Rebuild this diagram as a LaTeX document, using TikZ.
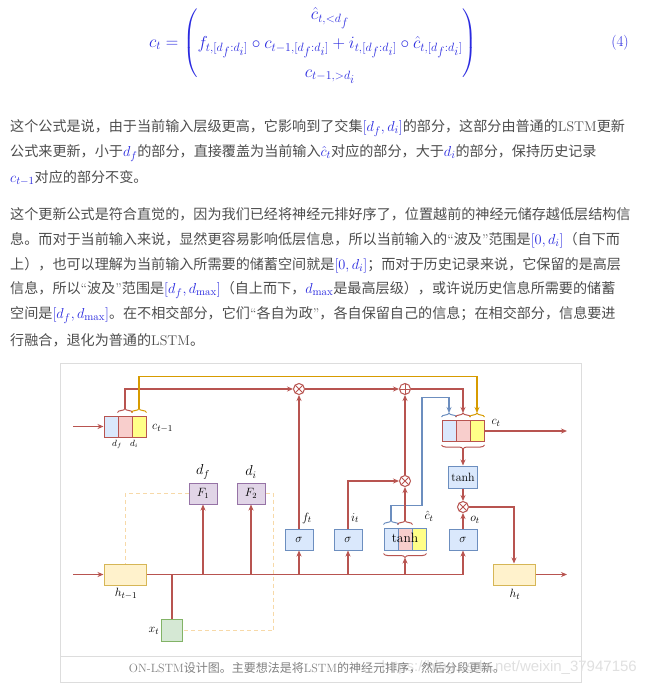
\documentclass[tikz,border=0pt]{standalone}
\usepackage{amsmath, amssymb}
\usepackage{fontspec}
\newfontfamily\cjk{Noto Sans CJK SC}
\newfontfamily\wmfont{Liberation Sans}
\usetikzlibrary{arrows.meta, decorations.pathreplacing}

\definecolor{txtgray}{HTML}{4D4D4D}
\definecolor{mblue}{HTML}{2A2AE0}
\definecolor{lred}{HTML}{B85450}
\definecolor{lredfill}{HTML}{F8CECC}
\definecolor{lblue}{HTML}{6C8EBF}
\definecolor{lbluefill}{HTML}{DAE8FC}
\definecolor{lorange}{HTML}{D79B00}
\definecolor{lyellowfill}{HTML}{FFFF88}
\definecolor{hfill}{HTML}{FFF2CC}
\definecolor{hdraw}{HTML}{D6B656}
\definecolor{gfill}{HTML}{D5E8D4}
\definecolor{gdraw}{HTML}{82B366}
\definecolor{pfill}{HTML}{E1D5E7}
\definecolor{pdraw}{HTML}{9673A6}
\definecolor{dashc}{HTML}{F7D9A8}
\definecolor{framec}{HTML}{DDDDDD}
\definecolor{capgray}{HTML}{808080}

\newcommand{\mth}[1]{{\fontsize{15.5}{15.5}\selectfont\textcolor{mblue}{$#1$}}}
\newcommand{\lstm}{{\rmfamily LSTM}}
\newcommand{\oquote}{{\rmfamily “}}
\newcommand{\cquote}{{\rmfamily ”}}
\newcommand{\ssub}[1]{{\scriptstyle #1}}

\begin{document}
\begin{tikzpicture}[x=1pt, y=-1pt,
    lk/.style={draw=lred, line width=1.1pt},
    ok/.style={draw=lorange, line width=1.1pt},
    bk/.style={draw=lblue, line width=1.1pt},
    dk/.style={draw=dashc, line width=1pt, dash pattern=on 4pt off 3pt},
    ar/.style={-{Stealth[length=6pt, width=5pt]}},
    cellr/.style={draw=lred, line width=1pt, minimum width=14, minimum height=21, inner sep=0},
    cellb/.style={draw=lblue, line width=1pt, minimum width=14, minimum height=22, inner sep=0},
    gate/.style={draw=lblue, fill=lbluefill, line width=1pt, minimum width=28, minimum height=21, inner sep=0, font=\fontsize{12}{12}\selectfont},
    fbox/.style={draw=pdraw, fill=pfill, line width=1pt, minimum width=28, minimum height=21, inner sep=0, font=\fontsize{12}{12}\selectfont},
    hbox/.style={draw=hdraw, fill=hfill, line width=1pt, minimum width=42, minimum height=21, inner sep=0},
    xbox/.style={draw=gdraw, fill=gfill, line width=1pt, minimum width=21, minimum height=22, inner sep=0},
    opnode/.style={circle, draw=lred, fill=white, line width=1pt, minimum size=11, inner sep=0},
    timesop/.style={opnode, path picture={\draw[lred, line width=0.9pt] (path picture bounding box.north west) -- (path picture bounding box.south east) (path picture bounding box.north east) -- (path picture bounding box.south west);}},
    plusop/.style={opnode, path picture={\draw[lred, line width=0.9pt] (path picture bounding box.north) -- (path picture bounding box.south) (path picture bounding box.west) -- (path picture bounding box.east);}},
    lbl/.style={inner sep=0, font=\fontsize{13}{13}\selectfont},
    brc/.style={decorate, decoration={brace, amplitude=4pt}, line width=1pt},
    body/.style={anchor=west, inner sep=0, text=txtgray, font=\cjk\fontsize{14.1}{14.1}\selectfont}
]
    \fill[white] (0,0) rectangle (646,688);
    \useasboundingbox (0,0) rectangle (646,688);

    \node[text=mblue, inner sep=0, font=\fontsize{16.5}{19}\selectfont] (eq) at (313,43) {{\renewcommand{\arraystretch}{1.45}$c_t = \left( \smash{\begin{matrix} \hat{c}_{t,<d_\ssub{f}} \\ f_{t,[d_\ssub{f}:d_\ssub{i}]} \circ c_{t-1,[d_\ssub{f}:d_\ssub{i}]} + i_{t,[d_\ssub{f}:d_\ssub{i}]} \circ \hat{c}_{t,[d_\ssub{f}:d_\ssub{i}]} \\ c_{t-1,>d_\ssub{i}} \end{matrix}} \rule[-28pt]{0pt}{64pt} \right)$}};
    \node[text=mblue, inner sep=0, font=\fontsize{15}{15}\selectfont] (eqno) at (620,43) {(4)};

    \node[body] (p1a) at (10,128) {这个公式是说，由于当前输入层级更高，它影响到了交集\mth{[d_f, d_i]}的部分，这部分由普通的\lstm 更新};
    \node[body] (p1b) at (10,153) {公式来更新，小于\mth{d_f}的部分，直接覆盖为当前输入\mth{\hat{c}_t}对应的部分，大于\mth{d_i}的部分，保持历史记录};
    \node[body] (p1c) at (10,178) {\mth{c_{t-1}}对应的部分不变。};
    \node[body] (p2a) at (10,214) {这个更新公式是符合直觉的，因为我们已经将神经元排好序了，位置越前的神经元储存越低层结构信};
    \node[body] (p2b) at (10,240) {息。而对于当前输入来说，显然更容易影响低层信息，所以当前输入的\oquote 波及\cquote 范围是\mth{[0, d_i]}（自下而};
    \node[body] (p2c) at (10,265) {上），也可以理解为当前输入所需要的储蓄空间就是\mth{[0, d_i]}；而对于历史记录来说，它保留的是高层};
    \node[body] (p2d) at (10,290) {信息，所以\oquote 波及\cquote 范围是\mth{[d_f, d_{\max}]}（自上而下，\mth{d_{\max}}是最高层级），或许说历史信息所需要的储蓄};
    \node[body] (p2e) at (10,315) {空间是\mth{[d_f, d_{\max}]}。在不相交部分，它们\oquote 各自为政\cquote ，各自保留自己的信息；在相交部分，信息要进};
    \node[body] (p2f) at (10,340) {行融合，退化为普通的\lstm。};

    \draw[framec, line width=1pt] (60,363) rectangle (581,682);
    \draw[framec, line width=1pt] (60,656) -- (581,656);

    \node[cellr, fill=lbluefill] (cpa) at (111,426.5) {};
    \node[cellr, fill=lredfill] (cpb) at (125,426.5) {};
    \node[cellr, fill=lyellowfill] (cpc) at (139,426.5) {};
    \node[cellr, fill=lbluefill] (cta) at (449,431) {};
    \node[cellr, fill=lredfill] (ctb) at (463,431) {};
    \node[cellr, fill=lyellowfill] (ctc) at (477,431) {};
    \node[cellb, fill=lbluefill] (cha) at (391,539) {};
    \node[cellb, fill=lredfill] (chb) at (405,539) {};
    \node[cellb, fill=lyellowfill] (chc) at (419,539) {};
    \node[inner sep=0, font=\fontsize{13.5}{13.5}\selectfont] (chtxt) at (405,538) {tanh};

    \node[timesop] (mulf) at (299,389) {};
    \node[plusop] (addc) at (405,389) {};
    \node[timesop] (mulci) at (405,481) {};
    \node[timesop] (mulo) at (463,507) {};

    \node[fbox] (F1) at (203,493.5) {$F_1$};
    \node[fbox] (F2) at (251,493.5) {$F_2$};
    \node[gate] (sigf) at (299,539.5) {$\sigma$};
    \node[gate] (sigi) at (348,539.5) {$\sigma$};
    \node[gate] (sigo) at (463,539.5) {$\sigma$};
    \node[gate, minimum width=29, minimum height=22] (tanhc) at (463,477) {tanh};
    \node[hbox] (hprev) at (125,574.5) {};
    \node[hbox] (ht) at (514,574.5) {};
    \node[xbox] (xt) at (172,630.5) {};

    \coordinate (cin) at (73,426.5);
    \coordinate (hin) at (73,574.5);
    \coordinate (ctout) at (567,431);
    \coordinate (htout) at (567,574.5);
    \coordinate (tcpb) at ([yshift=7pt]cpb.north);
    \coordinate (tcpc) at ([yshift=7pt]cpc.north);
    \coordinate (tcta) at ([yshift=7pt]cta.north);
    \coordinate (tctb) at ([yshift=7pt]ctb.north);
    \coordinate (tctc) at ([yshift=7pt]ctc.north);
    \coordinate (bctb) at ([yshift=-7pt]ctb.south);
    \coordinate (tcha) at ([yshift=7pt]cha.north);
    \coordinate (tchb) at ([yshift=7pt]chb.north);
    \coordinate (bchb) at ([yshift=-7pt]chb.south);

    \draw[brc, draw=lred] ([yshift=3pt]cpb.north west) -- ([yshift=3pt]cpb.north east);
    \draw[brc, draw=lorange] ([yshift=3pt]cpc.north west) -- ([yshift=3pt]cpc.north east);
    \draw[brc, draw=lblue] ([yshift=3pt]cta.north west) -- ([yshift=3pt]cta.north east);
    \draw[brc, draw=lred] ([yshift=3pt]ctb.north west) -- ([yshift=3pt]ctb.north east);
    \draw[brc, draw=lorange] ([yshift=3pt]ctc.north west) -- ([yshift=3pt]ctc.north east);
    \draw[brc, draw=lred] ([yshift=-3pt]ctc.south east) -- ([yshift=-3pt]cta.south west);
    \draw[brc, draw=lblue] ([yshift=3pt]cha.north west) -- ([yshift=3pt]cha.north east);
    \draw[brc, draw=lred] ([yshift=3pt]chb.north west) -- ([yshift=3pt]chb.north east);
    \draw[brc, draw=lred] ([yshift=-3pt]chc.south east) -- ([yshift=-3pt]cha.south west);

    \draw[lk, ar] (cin) -- (cpa);
    \draw[lk, ar] (tcpb) |- (mulf);
    \draw[ok, ar] (tcpc) -- ++(0,-32) -| (tctc);
    \draw[lk, ar] (mulf) -- (addc);
    \draw[lk, ar] (addc) -| (tctb);
    \draw[bk, ar] (tcha) -- ++(0,-15) -| ++(31,-108) -| (tcta);
    \draw[lk, ar] (tchb) -- (mulci);
    \draw[lk, ar] (mulci) -- (addc);
    \draw[lk, ar] (sigf) -- (mulf);
    \draw[lk, ar] (sigi) |- (mulci);
    \draw[lk, ar] (bctb) -- (tanhc);
    \draw[lk, ar] (tanhc) -- (mulo);
    \draw[lk, ar] (sigo) -- (mulo);
    \draw[lk, ar] (mulo) -| (ht);
    \draw[lk, ar] (ctc.east) -- (ctout);
    \draw[lk, ar] (hin) -- (hprev);
    \draw[lk, ar] (ht) -- (htout);
    \draw[lk, ar] (hprev) -| (sigo);
    \draw[lk, ar] (F1 |- hprev) -- (F1);
    \draw[lk, ar] (F2 |- hprev) -- (F2);
    \draw[lk, ar] (sigf |- hprev) -- (sigf);
    \draw[lk, ar] (sigi |- hprev) -- (sigi);
    \draw[lk, ar] (bchb |- hprev) -- (bchb);
    \draw[lk] (xt) -- (xt |- hprev);
    \draw[dk] (F1) -| (hprev);
    \draw[dk] (F2.east) -- ++(8,0) |- (xt);

    \node[lbl, anchor=west] (lcp) at (152,428) {$c_{t-1}$};
    \node[inner sep=0, font=\fontsize{9}{9}\selectfont] (ldf) at (117,444) {$d_f$};
    \node[inner sep=0, font=\fontsize{9}{9}\selectfont] (ldi) at (134,444) {$d_i$};
    \node[lbl, font=\fontsize{14}{14}\selectfont] (lF1) at (203,472) {$d_f$};
    \node[lbl, font=\fontsize{14}{14}\selectfont] (lF2) at (251,472) {$d_i$};
    \node[lbl] (lft) at (307,518) {$f_t$};
    \node[lbl] (lit) at (355,518) {$i_t$};
    \node[lbl] (lch) at (429,516) {$\hat{c}_t$};
    \node[lbl] (lot) at (475,520) {$o_t$};
    \node[lbl] (lct) at (496,423) {$c_t$};
    \node[lbl] (lhp) at (126,594) {$h_{t-1}$};
    \node[lbl] (lxt) at (154,631) {$x_t$};
    \node[lbl] (lht) at (515,594) {$h_t$};

    \node[anchor=east, inner sep=0, text=black!12, font=\wmfont\fontsize{15}{15}\selectfont] (wm) at (637,668) {https://blog.csdn.net/weixin\_37947156};
    \node[inner sep=0, text=capgray, font=\cjk\fontsize{12}{12}\selectfont] (cap) at (317,668) {{\rmfamily ON-LSTM}设计图。主要想法是将\lstm 的神经元排序，然后分段更新。};
\end{tikzpicture}
\end{document}
